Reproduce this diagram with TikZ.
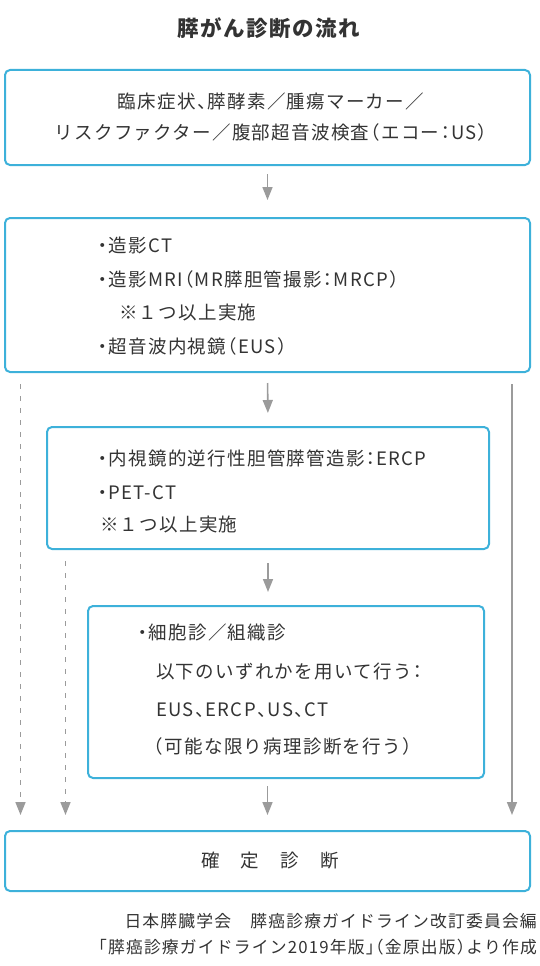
\documentclass[tikz,border=0pt]{standalone}
\usepackage{fontspec}
\setmainfont{Noto Sans CJK JP}[RawFeature=+halt,LetterSpace=7]
\usetikzlibrary{arrows.meta}
\definecolor{frameblue}{HTML}{3DB1DA}
\definecolor{flowgray}{HTML}{9B9B9B}
\definecolor{inkgray}{HTML}{333333}

\begin{document}
\begin{tikzpicture}[x=1pt,y=-1pt,
    every node/.style={inner sep=0pt,text=inkgray},
    body/.style={font=\fontsize{18.5}{31}\selectfont},
    line/.style={body,anchor=base west},
    note/.style={font=\fontsize{16.8}{18}\selectfont,anchor=base east},
    frame/.style={draw=frameblue,line width=2pt,rounded corners=5pt},
    flow/.style={draw=flowgray,line width=1.6pt,-{Triangle[width=10pt,length=13pt]}},
    skip/.style={flow,dash pattern=on 4.5pt off 7.5pt}]
  \useasboundingbox (0,0) rectangle (540,966);
  \node[font=\fontsize{21.5}{24}\selectfont\bfseries] (title) at (269,28) {膵がん診断の流れ};

  \node[frame,minimum width=525pt,minimum height=95pt] (sympt) at (267.5,117.5) {};
  \node[frame,minimum width=525pt,minimum height=154pt] (image) at (267.5,295) {};
  \node[frame,minimum width=442pt,minimum height=122pt] (endo) at (268,488) {};
  \node[frame,minimum width=396pt,minimum height=172pt] (cyto) at (286,692) {};
  \node[frame,minimum width=525pt,minimum height=60pt] (diag) at (267.5,861) {};

  \node[body,align=center] (symptxt) at (271,117.5) {臨床症状、膵酵素／腫瘍マーカー／\\リスクファクター／腹部超音波検査（エコー：US）};

  \node[line] (ct) at (98,252.5) {・造影CT};
  \node[line] (mri) at (98,286.5) {・造影MRI（MR膵胆管撮影：MRCP）};
  \node[line] (once) at (119,319.5) {※１つ以上実施};
  \node[line] (eus) at (98,353.5) {・超音波内視鏡（EUS）};

  \node[line] (ercp) at (98,465.5) {・内視鏡的逆行性胆管膵管造影：ERCP};
  \node[line] (pet) at (98,499.5) {・PET-CT};
  \node[line] (oncetoo) at (100,531.5) {※１つ以上実施};

  \node[line] (biopsy) at (138,639.5) {・細胞診／組織診};
  \node[line] (means) at (156,678.5) {以下のいずれかを用いて行う：};
  \node[line] (tools) at (156,716.5) {EUS、ERCP、US、CT};
  \node[line] (patho) at (154,753.5) {（可能な限り病理診断を行う）};

  \node[body] (diagtxt) at (270,861) {確　定　診　断};

  \node[note] (src1) at (537,927.5) {日本膵臓学会　膵癌診療ガイドライン改訂委員会編};
  \node[note] (src2) at (537,953.5) {「膵癌診療ガイドライン2019年版」（金原出版）より作成};

  \draw[flow,shorten <=8pt,shorten >=17pt] (sympt.south) -- (image.north);
  \draw[flow,shorten <=10pt,shorten >=13pt] (image.south) -- (endo.north);
  \draw[flow,shorten <=13pt,shorten >=13pt] (endo.south) -- (endo.south |- cyto.north);
  \draw[flow,shorten <=7pt,shorten >=15pt] (diag.north |- cyto.south) -- (diag.north);

  \coordinate (skipout) at (20.5,384);
  \coordinate (skipin) at (65.5,561);
  \coordinate (direct) at (512,384);
  \draw[skip,shorten >=15pt] (skipout) -- (skipout |- diag.north);
  \draw[skip,shorten >=15pt] (skipin) -- (skipin |- diag.north);
  \draw[flow,shorten >=15pt] (direct) -- (direct |- diag.north);
\end{tikzpicture}
\end{document}
